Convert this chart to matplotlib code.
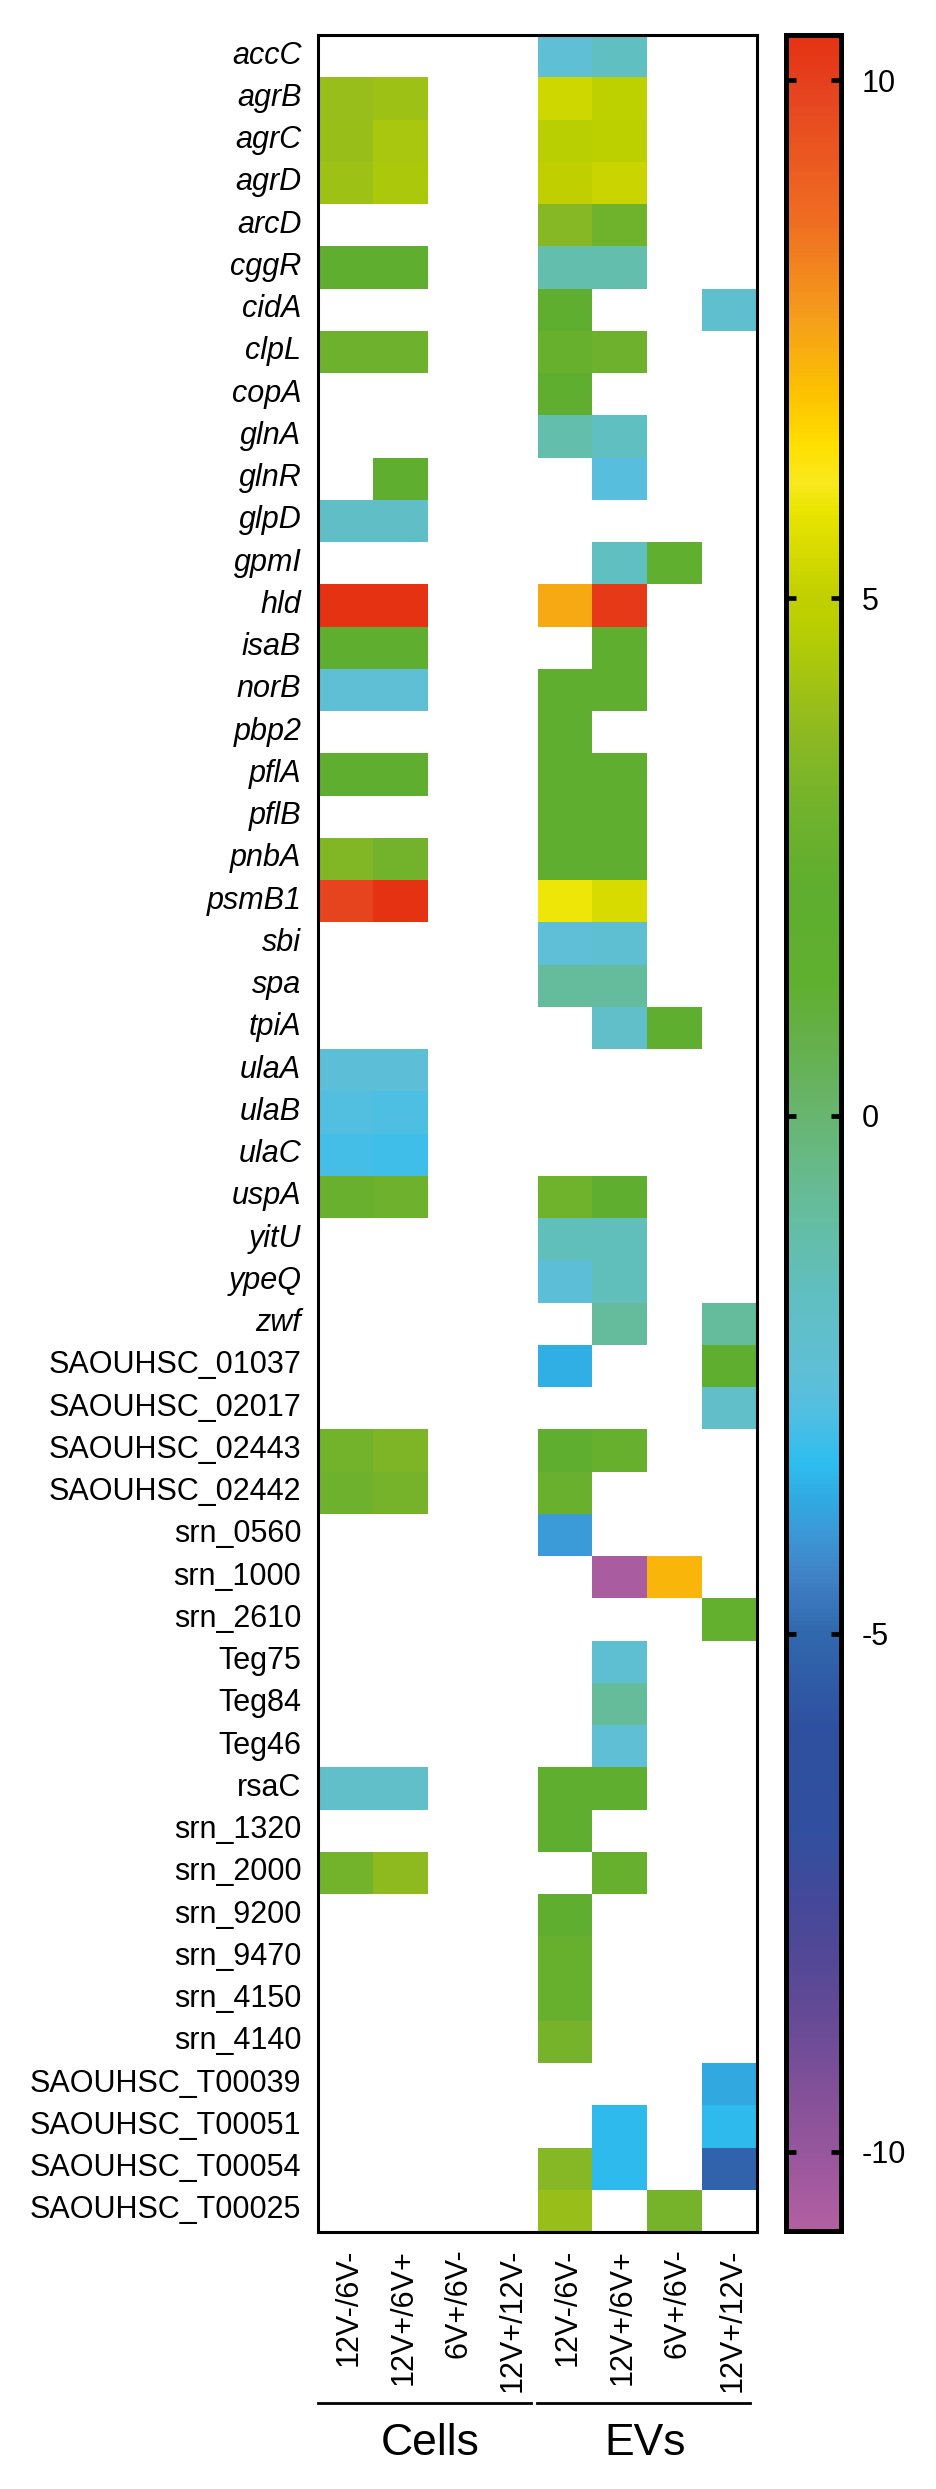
import numpy as np
import matplotlib.pyplot as plt
from matplotlib.colors import LinearSegmentedColormap, Normalize
from matplotlib.cm import ScalarMappable
from matplotlib.transforms import ScaledTranslation

plt.rcParams['font.family'] = ['Liberation Sans', 'DejaVu Sans']

italic_genes = ['accC', 'agrB', 'agrC', 'agrD', 'arcD', 'cggR', 'cidA', 'clpL', 'copA', 'glnA',
                'glnR', 'glpD', 'gpmI', 'hld', 'isaB', 'norB', 'pbp2', 'pflA', 'pflB', 'pnbA',
                'psmB1', 'sbi', 'spa', 'tpiA', 'ulaA', 'ulaB', 'ulaC', 'uspA', 'yitU', 'ypeQ', 'zwf']
plain_genes = ['SAOUHSC_01037', 'SAOUHSC_02017', 'SAOUHSC_02443', 'SAOUHSC_02442', 'srn_0560',
               'srn_1000', 'srn_2610', 'Teg75', 'Teg84', 'Teg46', 'rsaC', 'srn_1320', 'srn_2000',
               'srn_9200', 'srn_9470', 'srn_4150', 'srn_4140', 'SAOUHSC_T00039', 'SAOUHSC_T00051',
               'SAOUHSC_T00054', 'SAOUHSC_T00025']
conditions = ['12V-/6V-', '12V+/6V+', '6V+/6V-', '12V+/12V-'] * 2
n = np.nan

# log2 fold change per condition
cells_12v_6v = [n, 3.9, 3.95, 4.1, n, 2.1, n, 2.8, n, n, n, -1.9, n, 10.4, 2.1, -2.4, n, 2.1, n, 3.4,
                9.9, n, n, n, -2.5, -2.85, -3.05, 2.6, n, n, n, n, n, 3.0, 2.8, n, n, n, n, n, n,
                -2.0, n, 3.0, n, n, n, n, n, n, n, n]
cells_12vp_6vp = [n, 4.1, 4.35, 4.4, n, 2.1, n, 2.8, n, n, 2.1, -1.9, n, 10.4, 2.1, -2.4, n, 2.1, n, 3.0,
                  10.4, n, n, n, -2.5, -2.9, -3.1, 2.8, n, n, n, n, n, 3.3, 3.1, n, n, n, n, n, n,
                  -2.0, n, 3.7, n, n, n, n, n, n, n, n]
evs_12v_6v = [-2.4, 5.3, 4.75, 5.0, 3.5, -1.3, 2.2, 2.5, 2.1, -1.25, n, n, n, 7.5, n, 2.1, 2.1, 2.1, 2.1, 2.2,
              5.9, -2.45, -0.9, n, n, n, n, 2.9, -1.6, -2.5, n, -3.6, n, 2.2, 2.6, -4.0, n, n, n, n, n,
              2.1, 2.1, n, 2.1, 2.5, 2.5, 3.1, n, n, 3.5, 3.95]
evs_12vp_6vp = [-1.7, 4.85, 4.8, 5.2, 2.9, -1.3, n, 2.8, n, -1.7, -2.7, n, -1.7, 10.2, 2.1, 2.1, n, 2.1, 2.1, 2.2,
                5.45, -2.35, -0.9, -2.0, n, n, n, 2.2, -1.6, -1.6, -0.9, n, n, 2.5, n, n, -10.5, n, -2.35, -0.85,
                -2.4, 2.2, n, 2.5, n, n, n, n, n, -3.4, -3.4, n]
evs_6vp_6v = [n] * 12 + [2.3] + [n] * 10 + [2.1] + [n] * 12 + [7.25] + [n] * 14 + [3.1]
evs_12vp_12v = [n, n, n, n, n, n, -2.2, n, n, n, n, n, n, n, n, n, n, n, n, n, n, n, n, n, n, n, n, n, n, n,
                -0.9, 2.0, -2.0, n, n, n, n, 2.4, n, n, n, n, n, n, n, n, n, n, -3.75, -3.4, -5.2, n]

# colour bar stops from bottom to top
cmap_values = [-10.76, -10, -9.5, -8.85, -8.2, -7.6, -6.9, -5.95, -5, -4.47, -4.1, -3.73, -3.36, -2.8,
               -2.43, -1.69, -0.95, 0, 0.72, 1.28, 2.2, 2.94, 3.68, 4.8, 5, 5.86, 6.11, 6.48, 6.97,
               7.7, 8.68, 10, 10.44]
cmap_colors = ['#b25fa1', '#96569c', '#855199', '#6a4b96', '#544896', '#45489a', '#30509f', '#2f4f9f',
               '#3068ae', '#4080c4', '#3d95d4', '#31a9e2', '#2dbdee', '#55bfe0', '#5fbfd5', '#60bfbf',
               '#65bd9f', '#68b570', '#65b04a', '#60b030', '#5fae2f', '#70b22c', '#8cb921', '#bcd000',
               '#c0cf00', '#eae500', '#f8e81e', '#ffdf00', '#fdc300', '#f59f1a', '#ef6c22', '#e5401f',
               '#e53212']

values = np.array([cells_12v_6v, cells_12vp_6vp, [n] * 52, [n] * 52,
                   evs_12v_6v, evs_12vp_6vp, evs_6vp_6v, evs_12vp_12v]).T
genes = italic_genes + plain_genes

vmin, vmax = cmap_values[0], cmap_values[-1]
stops = [(v - vmin) / (vmax - vmin) for v in cmap_values]
cmap = LinearSegmentedColormap.from_list('fold', list(zip(stops, cmap_colors)), N=512)
norm = Normalize(vmin, vmax)

W, H = 936, 2489
fig = plt.figure(figsize=(W / 100, H / 100), dpi=100)
ax = fig.add_axes([318 / W, 1 - 2232 / H, (757 - 318) / W, (2232 - 35) / H])
ax.pcolormesh(np.arange(9), np.arange(53), np.ma.masked_invalid(values), cmap=cmap, norm=norm)
ax.set_xlim(0, 8)
ax.set_ylim(52, 0)
for s in ax.spines.values():
    s.set_linewidth(2.2)

ax.set_yticks(np.arange(52) + 0.5)
ax.set_yticklabels(genes, fontsize=22)
ax.set_xticks(np.arange(8) + 0.5)
ax.set_xticklabels(conditions, rotation=90, fontsize=22)
ax.tick_params(length=0, axis='y', pad=12)
ax.tick_params(length=0, axis='x', pad=12)

# small nudges so the tick labels sit where they do in the original
up = ScaledTranslation(0, 4 / 100, fig.dpi_scale_trans)
right = ScaledTranslation(3 / 100, 0, fig.dpi_scale_trans)
for lab, g in zip(ax.get_yticklabels(), genes):
    if g in italic_genes:
        lab.set_style('italic')
    lab.set_transform(lab.get_transform() + up)
for lab in ax.get_xticklabels():
    lab.set_transform(lab.get_transform() + right)

# group lines under the x labels
ax.plot([0, 3.88], [56.05, 56.05], color='black', lw=2, clip_on=False)
ax.plot([3.99, 7.87], [56.05, 56.05], color='black', lw=2, clip_on=False)
ax.text(2.05, 57.28, 'Cells', fontsize=32, ha='center', va='baseline')
ax.text(5.97, 57.28, 'EVs', fontsize=32, ha='center', va='baseline')

cax = fig.add_axes([785.5 / W, 1 - 2230.5 / H, (840.5 - 785.5) / W, (2230.5 - 34.5) / H])
cb = fig.colorbar(ScalarMappable(norm=norm, cmap=cmap), cax=cax)
cb.outline.set_linewidth(3.6)
cb.set_ticks([-10, -5, 0, 5, 10])
cb.set_ticklabels(['-10', '-5', '0', '5', '10'])
cb.ax.tick_params(labelsize=22, length=7, width=3.4, direction='in', left=True, right=True, pad=15)

fig.savefig('out.png', dpi=100)
